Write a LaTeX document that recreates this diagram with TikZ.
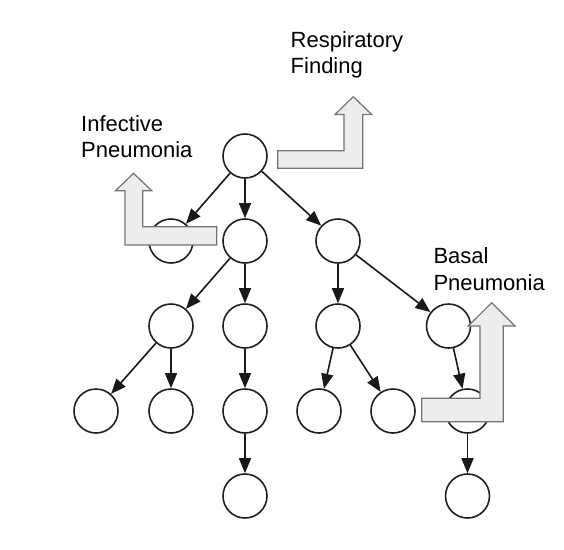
\documentclass[tikz,border=0pt]{standalone}
\usepackage{fontspec}
\setmainfont{Liberation Sans}
\usetikzlibrary{arrows.meta}
\begin{document}
\begin{tikzpicture}[x=1pt,y=-1pt,
  tn/.style={circle,draw=black!88,line width=1.6pt,minimum size=44pt,inner sep=0pt,fill=white},
  edge/.style={line width=1.6pt,draw=black!90,-{Triangle[length=15pt,width=12pt]}},
  bigarrow/.style={fill=black!7,draw=black!55,line width=1.2pt,line join=miter},
  lbl/.style={anchor=base west,align=left,inner sep=0pt,font=\fontsize{22}{26.5}\selectfont}]
\useasboundingbox (0,0) rectangle (564,549);
% nodes
\node[tn] (r)   at (245,156) {};
\node[tn] (a)   at (171,241) {};
\node[tn] (b)   at (245,241) {};
\node[tn] (c)   at (338,241) {};
\node[tn] (b1)  at (171,326) {};
\node[tn] (b2)  at (245,326) {};
\node[tn] (c1)  at (338,326) {};
\node[tn] (c2)  at (448.5,326) {};
\node[tn] (b11) at (96,411) {};
\node[tn] (b12) at (171,411) {};
\node[tn] (b21) at (245,411) {};
\node[tn] (c11) at (319,411) {};
\node[tn] (c12) at (393,411) {};
\node[tn] (c21) at (467.5,411) {};
\node[tn] (b211) at (245,496) {};
\node[tn] (c211) at (467.5,496) {};
% edges
\draw[edge] (r) -- (a);
\draw[edge] (r) -- (b);
\draw[edge] (r) -- (c);
\draw[edge] (b) -- (b1);
\draw[edge] (b) -- (b2);
\draw[edge] (c) -- (c1);
\draw[edge] (c) -- (c2);
\draw[edge] (b1) -- (b11);
\draw[edge] (b1) -- (b12);
\draw[edge] (b2) -- (b21);
\draw[edge] (b21) -- (b211);
\draw[edge] (c1) -- (c11);
\draw[edge] (c1) -- (c12);
\draw[edge] (c2) -- (c21);
\draw[edge] (c21) -- (c211);
% big L arrows
\draw[bigarrow] (216.7,226.7) -- (142.7,226.7) -- (142.7,190.7) -- (151.7,190.7) -- (133.5,173.3) -- (115.5,190.7) -- (125,190.7) -- (125,245) -- (216.7,245) -- cycle;
\draw[bigarrow] (277.7,150.7) -- (344,150.7) -- (344,114.5) -- (335,114.5) -- (353.3,96.7) -- (371.7,114.5) -- (362.7,114.5) -- (362.7,168.3) -- (277.7,168.3) -- cycle;
\draw[bigarrow] (421.7,398.3) -- (480,398.3) -- (480,326) -- (468.3,326) -- (491.7,302.7) -- (515,326) -- (503.3,326) -- (503.3,421.7) -- (421.7,421.7) -- cycle;
% labels (anchored at the baseline of the last line)
\node[lbl] (lresp) at (290.5,73.5) {Respiratory\\Finding};
\node[lbl] (linf)  at (81,157.5) {Infective\\Pneumonia};
\node[lbl] (lbas)  at (433.3,290) {Basal\\Pneumonia};
\end{tikzpicture}
\end{document}
